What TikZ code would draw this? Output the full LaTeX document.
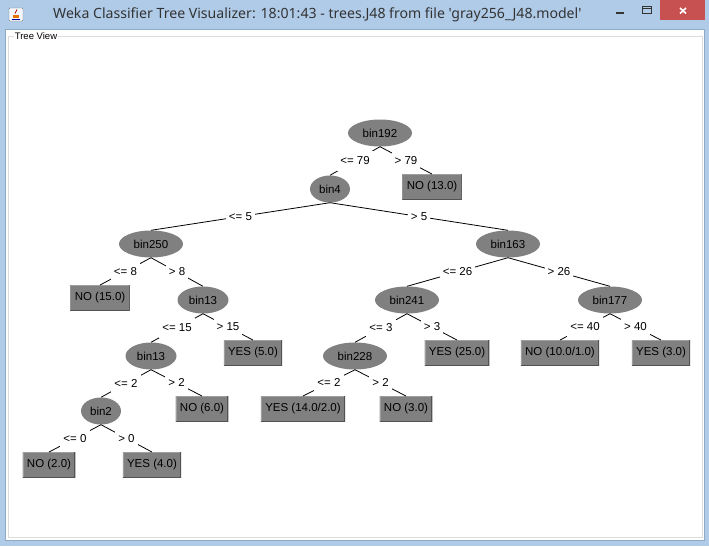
\documentclass[tikz,border=0pt]{standalone}
\usepackage{fontspec}
\setmainfont{Liberation Sans}
\newfontfamily\titlefont{Noto Sans}
\usetikzlibrary{shapes.geometric}
\definecolor{framebg}{HTML}{B0CBE8}
\definecolor{frameline}{HTML}{8FA9C6}
\definecolor{closered}{HTML}{C75050}
\definecolor{nodegray}{HTML}{808080}
\definecolor{panelline}{HTML}{DCDCDC}
\tikzset{
	binnode/.style={ellipse,fill=nodegray,inner sep=0pt,minimum width=#1,minimum height=27,font=\fontsize{11.5}{13}\selectfont},
	leafbox/.style={rectangle,fill=nodegray,inner xsep=4.3pt,inner ysep=0pt,minimum height=25.5,font=\fontsize{11.5}{13}\selectfont,
		path picture={
			\draw[black!38,line width=2pt] (path picture bounding box.south west) -- (path picture bounding box.north west) -- (path picture bounding box.north east);
			\draw[black!68,line width=2pt] (path picture bounding box.south west) -- (path picture bounding box.south east) -- (path picture bounding box.north east);
		}},
	edgelabel/.style={fill=white,inner xsep=3pt,inner ysep=0pt,minimum height=20,font=\fontsize{11.5}{13}\selectfont},
	treeline/.style={black,line width=0.8pt}
}
\begin{document}
\begin{tikzpicture}[x=1pt,y=-1pt]
	\useasboundingbox (0,0) rectangle (709,546);
	% window
	\fill[framebg] (0,0) rectangle (709,546);
	\fill[white,draw=frameline] (5.5,29.5) rectangle (704,540.5);
	\draw[panelline] (8.5,36.5) rectangle (702,537);
	\node[fill=white,inner xsep=1pt,inner ysep=0pt,font=\fontsize{9.5}{11}\selectfont] (viewtitle) at (36,36) {Tree View};
	\node[font=\titlefont\fontsize{14.1}{16}\selectfont,text=black!80,anchor=west,inner sep=0pt] (wintitle) at (53,15) {Weka Classifier Tree Visualizer: 18:01:43 - trees.J48 from file 'gray256\_J48.model'};
	% icon
	\draw[black!50,fill=white!85!framebg,rounded corners=1pt] (9,8) rectangle (23,21);
	\fill[orange!90!black] (13,15) rectangle (19,17.5);
	\draw[red!70!black,line width=0.8pt] (15,13.5) -- (17,9.5);
	\draw[blue!60!black,line width=0.7pt] (12,19) -- (20,19);
	% window buttons
	\fill[closered] (660,0) rectangle (705,20);
	\draw[white,line width=1.6pt] (680,8) -- (686,13.5);
	\draw[white,line width=1.6pt] (686,8) -- (680,13.5);
	\draw[black!80,line width=1.4pt] (616,13) -- (624,13);
	\draw[black!80,line width=1pt] (642.5,6.5) rectangle (651.5,13.5);
	\draw[black!80,line width=1pt] (642.5,8) -- (651.5,8);

	% inner nodes
	\node[binnode=64] (bin192) at (380,133) {bin192};
	\node[binnode=40] (bin4) at (330,189) {bin4};
	\node[binnode=64] (bin250) at (151,244) {bin250};
	\node[binnode=64] (bin163) at (508,244) {bin163};
	\node[binnode=51] (bin13a) at (203,300) {bin13};
	\node[binnode=64] (bin241) at (407,300) {bin241};
	\node[binnode=64] (bin177) at (610,300) {bin177};
	\node[binnode=51] (bin13b) at (151,356) {bin13};
	\node[binnode=64] (bin228) at (355,356) {bin228};
	\node[binnode=40] (bin2) at (101,411) {bin2};
	% leaves
	\node[leafbox] (no13) at (432,187) {NO (13.0)};
	\node[leafbox] (no15) at (100,298) {NO (15.0)};
	\node[leafbox] (yes5) at (253,353) {YES (5.0)};
	\node[leafbox] (yes25) at (457,353) {YES (25.0)};
	\node[leafbox] (no10) at (560,353) {NO (10.0/1.0)};
	\node[leafbox] (yes3) at (661,353) {YES (3.0)};
	\node[leafbox] (no6) at (202,409) {NO (6.0)};
	\node[leafbox] (yes14) at (303,409) {YES (14.0/2.0)};
	\node[leafbox] (no3) at (406,409) {NO (3.0)};
	\node[leafbox] (no2) at (49,465) {NO (2.0)};
	\node[leafbox] (yes4) at (152,465) {YES (4.0)};

	% connectors
	\draw[treeline] (bin192.south) -- node[edgelabel] {<= 79} (bin4.north);
	\draw[treeline] (bin192.south) -- node[edgelabel] {> 79} (no13.north);
	\draw[treeline] (bin4.south) -- node[edgelabel] {<= 5} (bin250.north);
	\draw[treeline] (bin4.south) -- node[edgelabel] {> 5} (bin163.north);
	\draw[treeline] (bin250.south) -- node[edgelabel] {<= 8} (no15.north);
	\draw[treeline] (bin250.south) -- node[edgelabel] {> 8} (bin13a.north);
	\draw[treeline] (bin13a.south) -- node[edgelabel] {<= 15} (bin13b.north);
	\draw[treeline] (bin13a.south) -- node[edgelabel] {> 15} (yes5.north);
	\draw[treeline] (bin13b.south) -- node[edgelabel] {<= 2} (bin2.north);
	\draw[treeline] (bin13b.south) -- node[edgelabel] {> 2} (no6.north);
	\draw[treeline] (bin2.south) -- node[edgelabel] {<= 0} (no2.north);
	\draw[treeline] (bin2.south) -- node[edgelabel] {> 0} (yes4.north);
	\draw[treeline] (bin163.south) -- node[edgelabel] {<= 26} (bin241.north);
	\draw[treeline] (bin163.south) -- node[edgelabel] {> 26} (bin177.north);
	\draw[treeline] (bin241.south) -- node[edgelabel] {<= 3} (bin228.north);
	\draw[treeline] (bin241.south) -- node[edgelabel] {> 3} (yes25.north);
	\draw[treeline] (bin228.south) -- node[edgelabel] {<= 2} (yes14.north);
	\draw[treeline] (bin228.south) -- node[edgelabel] {> 2} (no3.north);
	\draw[treeline] (bin177.south) -- node[edgelabel] {<= 40} (no10.north);
	\draw[treeline] (bin177.south) -- node[edgelabel] {> 40} (yes3.north);
\end{tikzpicture}
\end{document}
